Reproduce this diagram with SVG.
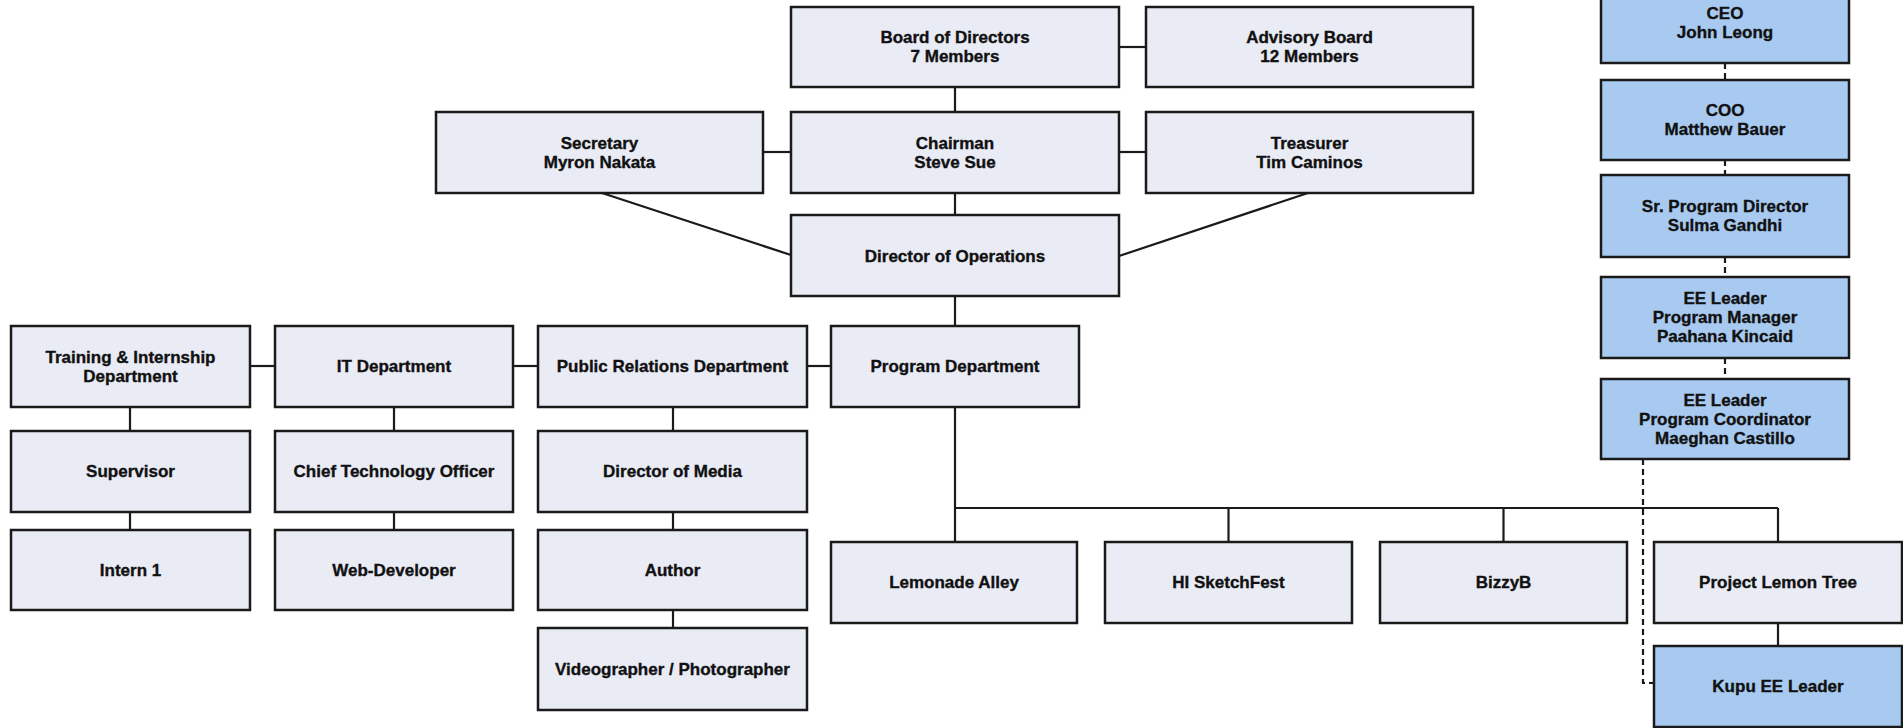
<svg xmlns="http://www.w3.org/2000/svg" width="1903" height="728" viewBox="0 0 1903 728">
<style>
.box{fill:#e9ebf5;stroke:#1a1a1a;stroke-width:2.5}
.blue{fill:#a8caf0;stroke:#1a1a1a;stroke-width:2.5}
.t{font-family:"Liberation Sans",Arial,sans-serif;font-weight:bold;font-size:17px;fill:#111;stroke:#111;stroke-width:0.35;text-anchor:middle;dominant-baseline:central}
.c{fill:none;stroke:#1a1a1a;stroke-width:2.2}
.d{fill:none;stroke:#1a1a1a;stroke-width:2.2;stroke-dasharray:6 4}
</style>
<rect x="0" y="0" width="1903" height="728" fill="#ffffff"/>
<g id="connectors">
<line class="c" x1="1119" y1="47" x2="1146" y2="47"/>
<line class="c" x1="955" y1="87" x2="955" y2="112"/>
<line class="c" x1="763" y1="152" x2="791" y2="152"/>
<line class="c" x1="1119" y1="152" x2="1146" y2="152"/>
<line class="c" x1="955" y1="193" x2="955" y2="215"/>
<line class="c" x1="602" y1="193" x2="791" y2="255"/>
<line class="c" x1="1308" y1="193" x2="1119" y2="256"/>
<line class="c" x1="955" y1="296" x2="955" y2="326"/>
<line class="c" x1="250" y1="366" x2="275" y2="366"/>
<line class="c" x1="513" y1="366" x2="538" y2="366"/>
<line class="c" x1="807" y1="366" x2="831" y2="366"/>
<line class="c" x1="130" y1="407" x2="130" y2="431"/>
<line class="c" x1="130" y1="512" x2="130" y2="530"/>
<line class="c" x1="394" y1="407" x2="394" y2="431"/>
<line class="c" x1="394" y1="512" x2="394" y2="530"/>
<line class="c" x1="673" y1="407" x2="673" y2="431"/>
<line class="c" x1="673" y1="512" x2="673" y2="530"/>
<line class="c" x1="673" y1="610" x2="673" y2="628"/>
<line class="c" x1="955" y1="407" x2="955" y2="542"/>
<polyline class="c" points="955,508 1778,508"/>
<line class="c" x1="1228.5" y1="508" x2="1228.5" y2="542"/>
<line class="c" x1="1503.5" y1="508" x2="1503.5" y2="542"/>
<line class="c" x1="1778" y1="508" x2="1778" y2="542"/>
<line class="c" x1="1778" y1="623" x2="1778" y2="646"/>
<line class="d" x1="1725" y1="63" x2="1725" y2="80"/>
<line class="d" x1="1725" y1="160" x2="1725" y2="175"/>
<line class="d" x1="1725" y1="257" x2="1725" y2="277"/>
<line class="d" x1="1725" y1="358" x2="1725" y2="379"/>
<polyline class="d" points="1643,459 1643,683 1654,683"/>
</g>
<g id="board"><rect class="box" x="791" y="7" width="328" height="80"/><text class="t" x="955" y="37.5">Board of Directors</text><text class="t" x="955" y="56.5">7 Members</text></g>
<g id="advisory"><rect class="box" x="1146" y="7" width="327" height="80"/><text class="t" x="1309.5" y="37.5">Advisory Board</text><text class="t" x="1309.5" y="56.5">12 Members</text></g>
<g id="secretary"><rect class="box" x="436" y="112" width="327" height="81"/><text class="t" x="599.5" y="143">Secretary</text><text class="t" x="599.5" y="162">Myron Nakata</text></g>
<g id="chairman"><rect class="box" x="791" y="112" width="328" height="81"/><text class="t" x="955" y="143">Chairman</text><text class="t" x="955" y="162">Steve Sue</text></g>
<g id="treasurer"><rect class="box" x="1146" y="112" width="327" height="81"/><text class="t" x="1309.5" y="143">Treasurer</text><text class="t" x="1309.5" y="162">Tim Caminos</text></g>
<g id="dirops"><rect class="box" x="791" y="215" width="328" height="81"/><text class="t" x="955" y="256">Director of Operations</text></g>
<g id="training"><rect class="box" x="11" y="326" width="239" height="81"/><text class="t" x="130.5" y="357">Training &amp; Internship</text><text class="t" x="130.5" y="376">Department</text></g>
<g id="it"><rect class="box" x="275" y="326" width="238" height="81"/><text class="t" x="394" y="366.5">IT Department</text></g>
<g id="pr"><rect class="box" x="538" y="326" width="269" height="81"/><text class="t" x="672.5" y="366.5">Public Relations Department</text></g>
<g id="program"><rect class="box" x="831" y="326" width="248" height="81"/><text class="t" x="955" y="366.5">Program Department</text></g>
<g id="supervisor"><rect class="box" x="11" y="431" width="239" height="81"/><text class="t" x="130.5" y="471.5">Supervisor</text></g>
<g id="cto"><rect class="box" x="275" y="431" width="238" height="81"/><text class="t" x="394" y="471.5">Chief Technology Officer</text></g>
<g id="media"><rect class="box" x="538" y="431" width="269" height="81"/><text class="t" x="672.5" y="471.5">Director of Media</text></g>
<g id="intern"><rect class="box" x="11" y="530" width="239" height="80"/><text class="t" x="130.5" y="570">Intern 1</text></g>
<g id="webdev"><rect class="box" x="275" y="530" width="238" height="80"/><text class="t" x="394" y="570">Web-Developer</text></g>
<g id="author"><rect class="box" x="538" y="530" width="269" height="80"/><text class="t" x="672.5" y="570">Author</text></g>
<g id="video"><rect class="box" x="538" y="628" width="269" height="82"/><text class="t" x="672.5" y="669">Videographer / Photographer</text></g>
<g id="lemonade"><rect class="box" x="831" y="542" width="246" height="81"/><text class="t" x="954" y="582.5">Lemonade Alley</text></g>
<g id="sketchfest"><rect class="box" x="1105" y="542" width="247" height="81"/><text class="t" x="1228.5" y="582.5">HI SketchFest</text></g>
<g id="bizzyb"><rect class="box" x="1380" y="542" width="247" height="81"/><text class="t" x="1503.5" y="582.5">BizzyB</text></g>
<g id="lemontree"><rect class="box" x="1654" y="542" width="248" height="81"/><text class="t" x="1778" y="582.5">Project Lemon Tree</text></g>
<g id="kupu"><rect class="blue" x="1654" y="646" width="248" height="81"/><text class="t" x="1778" y="686.5">Kupu EE Leader</text></g>
<g id="ceo"><rect class="blue" x="1601" y="-18" width="248" height="81"/><text class="t" x="1725" y="13">CEO</text><text class="t" x="1725" y="32">John Leong</text></g>
<g id="coo"><rect class="blue" x="1601" y="80" width="248" height="80"/><text class="t" x="1725" y="110.5">COO</text><text class="t" x="1725" y="129.5">Matthew Bauer</text></g>
<g id="srpd"><rect class="blue" x="1601" y="175" width="248" height="82"/><text class="t" x="1725" y="206.5">Sr. Program Director</text><text class="t" x="1725" y="225.5">Sulma Gandhi</text></g>
<g id="eepm"><rect class="blue" x="1601" y="277" width="248" height="81"/><text class="t" x="1725" y="298.5">EE Leader</text><text class="t" x="1725" y="317.5">Program Manager</text><text class="t" x="1725" y="336.5">Paahana Kincaid</text></g>
<g id="eepc"><rect class="blue" x="1601" y="379" width="248" height="80"/><text class="t" x="1725" y="400">EE Leader</text><text class="t" x="1725" y="419">Program Coordinator</text><text class="t" x="1725" y="438">Maeghan Castillo</text></g>
</svg>
